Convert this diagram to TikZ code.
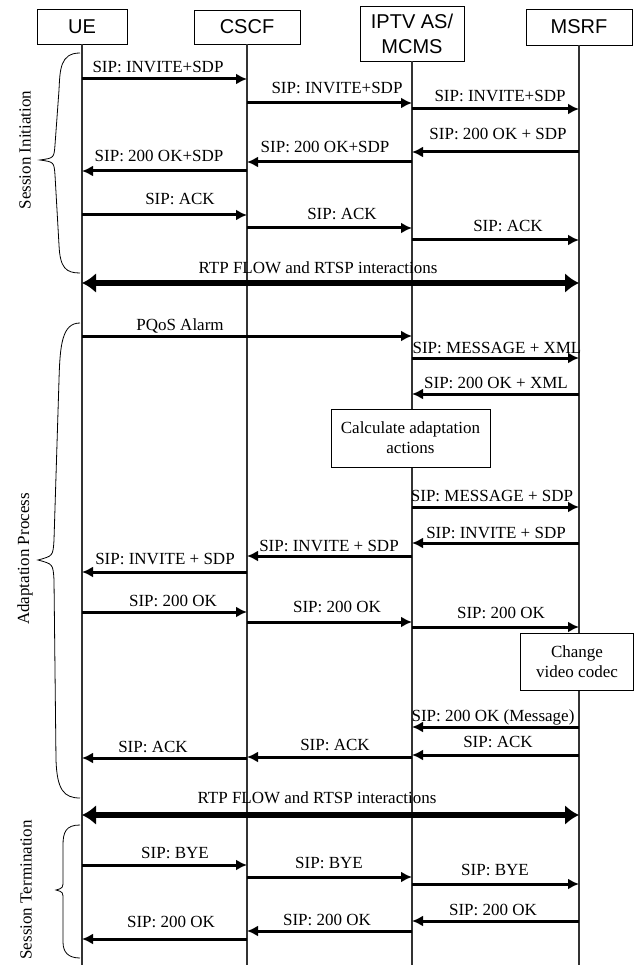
\documentclass[tikz,border=0pt]{standalone}
\usepackage{fontspec}
\setmainfont{Liberation Serif}
\newfontfamily\hdrfont{Liberation Sans}
\usetikzlibrary{arrows.meta}
\tikzset{
  hbox/.style={draw, line width=0.9pt, font=\hdrfont\fontsize{20}{25}\selectfont, inner sep=0pt, align=center},
  lifeln/.style={line width=1.1pt, draw=black!80},
  msgarrow/.style={line width=3pt, -{Latex[length=11pt,width=11pt]}},
  rtparrow/.style={line width=6.5pt, {Latex[length=14pt,width=20pt]}-{Latex[length=14pt,width=20pt]}},
  lbl/.style={font=\fontsize{17}{20}\selectfont, anchor=base, inner sep=1pt},
  sidelbl/.style={font=\fontsize{17}{20}\selectfont, rotate=90, inner sep=0pt},
  actbox/.style={draw, line width=0.9pt, fill=white, font=\fontsize{17}{20}\selectfont, align=center, inner sep=0pt},
  brace/.style={line width=0.8pt},
}
\newcommand\seqmsg[7]{%
  \draw[msgarrow] (#2 |- 0,#4) -- (#3 |- 0,#4);
  \node[lbl] (#1) at (#5,#6) {#7};}
\begin{document}
\begin{tikzpicture}[x=1pt,y=-1pt]
\useasboundingbox (0,0) rectangle (635,965);
% headers
\node[hbox, minimum width=90, minimum height=35] (ue) at (82,26.5) {UE};
\node[hbox, minimum width=106, minimum height=34] (cscf) at (247,27) {CSCF};
\node[hbox, minimum width=104, minimum height=55] (iptv) at (412,33.5) {IPTV AS/\\MCMS};
\node[hbox, minimum width=106, minimum height=36] (msrf) at (579,27) {MSRF};
\coordinate (bot) at (0,965);
% lifelines
\draw[lifeln] (ue.south) -- (ue |- bot);
\draw[lifeln] (cscf.south) -- (cscf |- bot);
\draw[lifeln] (iptv.south) -- (iptv |- bot);
\draw[lifeln] (msrf.south) -- (msrf |- bot);
% session initiation
\seqmsg{m1}{ue}{cscf}{79}{158}{73}{SIP: INVITE+SDP}
\seqmsg{m2}{cscf}{iptv}{103}{337}{94}{SIP: INVITE+SDP}
\seqmsg{m3}{iptv}{msrf}{109}{500}{102}{SIP: INVITE+SDP}
\seqmsg{m4}{msrf}{iptv}{152}{498}{140}{SIP: 200 OK + SDP}
\seqmsg{m5}{iptv}{cscf}{162}{325}{153}{SIP: 200 OK+SDP}
\seqmsg{m6}{cscf}{ue}{171}{159}{162}{SIP: 200 OK+SDP}
\seqmsg{m7}{ue}{cscf}{215}{180}{205}{SIP: ACK}
\seqmsg{m8}{cscf}{iptv}{228}{342}{220}{SIP: ACK}
\seqmsg{m9}{iptv}{msrf}{240}{508}{232}{SIP: ACK}
\draw[rtparrow] (ue |- 0,283) -- (msrf |- 0,283);
\node[lbl] (rtp1) at (318,273) {RTP FLOW and RTSP interactions};
% adaptation
\seqmsg{m11}{ue}{iptv}{336}{180}{330}{PQoS Alarm}
\seqmsg{m12}{iptv}{msrf}{358}{497}{353}{SIP: MESSAGE + XML}
\seqmsg{m13}{msrf}{iptv}{394}{496}{388}{SIP: 200 OK + XML}
\node[actbox, minimum width=159, minimum height=58] (calc) at (410.5,438) {Calculate adaptation\\actions};
\seqmsg{m15}{iptv}{msrf}{507}{492}{501}{SIP: MESSAGE + SDP}
\seqmsg{m16}{msrf}{iptv}{543}{496}{538}{SIP: INVITE + SDP}
\seqmsg{m17}{iptv}{cscf}{556}{329}{551}{SIP: INVITE + SDP}
\seqmsg{m18}{cscf}{ue}{572}{165}{564}{SIP: INVITE + SDP}
\seqmsg{m19}{ue}{cscf}{612}{173}{606}{SIP: 200 OK}
\seqmsg{m20}{cscf}{iptv}{622}{337}{612}{SIP: 200 OK}
\seqmsg{m21}{iptv}{msrf}{627}{501}{618}{SIP: 200 OK}
\node[actbox, minimum width=113, minimum height=57] (codec) at (577,661.5) {Change\\video codec};
\seqmsg{m23}{msrf}{iptv}{727}{493}{721}{SIP: 200 OK (Message)}
\seqmsg{m24}{msrf}{iptv}{755}{498}{747}{SIP: ACK}
\seqmsg{m25}{iptv}{cscf}{757}{335}{750}{SIP: ACK}
\seqmsg{m26}{cscf}{ue}{758}{153}{752}{SIP: ACK}
\draw[rtparrow] (ue |- 0,815) -- (msrf |- 0,815);
\node[lbl] (rtp2) at (317,803) {RTP FLOW and RTSP interactions};
% termination
\seqmsg{m28}{ue}{cscf}{865}{175}{858}{SIP: BYE}
\seqmsg{m29}{cscf}{iptv}{877}{329}{868}{SIP: BYE}
\seqmsg{m30}{iptv}{msrf}{884}{495}{875}{SIP: BYE}
\seqmsg{m31}{msrf}{iptv}{921}{493}{915}{SIP: 200 OK}
\seqmsg{m32}{iptv}{cscf}{931}{327}{925}{SIP: 200 OK}
\seqmsg{m33}{cscf}{ue}{939}{171}{927}{SIP: 200 OK}
% braces
\draw[brace] (80,53) .. controls (60,53) and (60,70) .. (59,90) -- (55,145) .. controls (54,158) .. (40,160) .. controls (54,162) .. (55,175) -- (59,245) .. controls (60,268) and (66,273) .. (80,273);
\draw[brace] (80,323) .. controls (62,323) and (60,345) .. (59,380) -- (54,540) .. controls (53,556) .. (38,560) .. controls (53,564) .. (54,580) -- (56,760) .. controls (57,790) and (64,798) .. (80,798);
\draw[brace] (80,825) .. controls (66,825) and (63,832) .. (63,845) -- (63,880) .. controls (63,888) .. (56,890) .. controls (63,892) .. (63,900) -- (63,942) .. controls (63,952) and (68,958) .. (80,958);
\node[sidelbl] (si) at (25,150) {Session Initiation};
\node[sidelbl] (ap) at (25,559) {Adaptation Process};
\node[sidelbl] (st) at (26,890) {Session Termination};
\end{tikzpicture}
\end{document}
